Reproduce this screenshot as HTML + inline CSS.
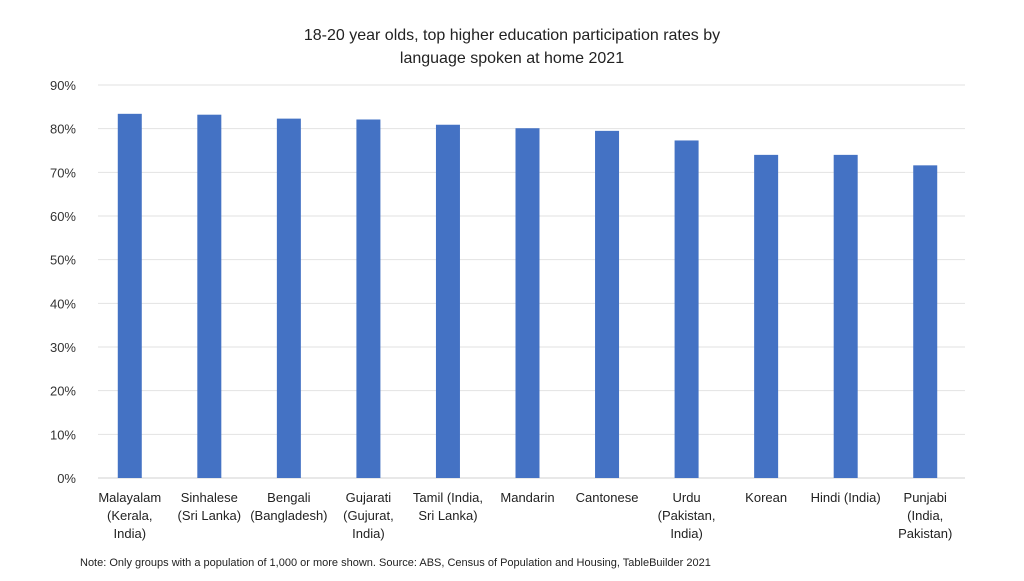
<!DOCTYPE html>
<html><head><meta charset="utf-8"><style>
body{margin:0;background:#fff;width:1024px;height:576px;overflow:hidden;font-family:"Liberation Sans",sans-serif}
</style></head><body>
<svg width="1024" height="576" id="svg" font-family="Liberation Sans, sans-serif">
<text x="512" y="40" text-anchor="middle" font-size="16" fill="#222">18-20 year olds, top higher education participation rates by</text>
<text x="512" y="63" text-anchor="middle" font-size="16" fill="#222">language spoken at home 2021</text>
<text x="80" y="566" font-size="11" fill="#222">Note: Only groups with a population of 1,000 or more  shown. Source: ABS, Census of Population and Housing, TableBuilder 2021</text>
</svg>
<script>
const categories=[["Malayalam","(Kerala,","India)"],["Sinhalese","(Sri Lanka)"],["Bengali","(Bangladesh)"],["Gujarati","(Gujurat,","India)"],["Tamil (India,","Sri Lanka)"],["Mandarin"],["Cantonese"],["Urdu","(Pakistan,","India)"],["Korean"],["Hindi (India)"],["Punjabi","(India,","Pakistan)"]];
const values=[83.4,83.2,82.3,82.1,80.9,80.1,79.5,77.3,74.0,74.0,71.6];
const ticks=[0,10,20,30,40,50,60,70,80,90];
const svg=document.getElementById('svg');const NS='http://www.w3.org/2000/svg';
const L=90,R=965,GL=98,Y0=478,Y90=85;
const y=v=>Y0-(v/90)*(Y0-Y90);
const step=(R-L)/categories.length;
function mk(t,a){const e=document.createElementNS(NS,t);for(const k in a)e.setAttribute(k,a[k]);svg.appendChild(e);return e;}
ticks.forEach(t=>{
 const g=mk('line',{x1:GL,x2:R,y1:y(t),y2:y(t),stroke:t===0?'#d0d0d0':'#e2e2e2','stroke-width':1});
 
 
 const tx=mk('text',{x:76,y:y(t)+5,'text-anchor':'end','font-size':13,fill:'#333'});
 tx.textContent=t+'%';
 
 
});
values.forEach((v,i)=>{
 const cx=L+step*(i+0.5);
 const b=mk('rect',{x:cx-12,y:y(v),width:24,height:Y0-y(v),fill:'#4472c4'});
 
 
 categories[i].forEach((s,j)=>{
  const t=mk('text',{x:cx,y:502+j*18,'text-anchor':'middle','font-size':13,fill:'#222'});
  t.textContent=s;
  
  
 });
});
</script>
</body></html>
